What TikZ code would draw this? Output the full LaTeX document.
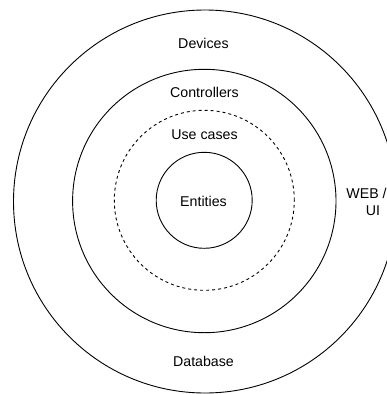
\documentclass[tikz,border=0pt]{standalone}
\usepackage{fontspec}
\setmainfont{Liberation Sans}
\begin{document}
\begin{tikzpicture}[x=1pt,y=-1pt,
  ring/.style={draw=black,line width=0.9pt,circle,inner sep=0pt},
  lbl/.style={font=\fontsize{14.2}{17.4}\selectfont,inner sep=0pt,align=center}]
  \useasboundingbox (0,0) rectangle (387,394);
  \begin{scope}
    \clip (0,0) rectangle (387,394);
    \node[ring,minimum size=383pt] (devices) at (205,201.5) {};
  \end{scope}
  \node[ring,minimum size=263.4pt] (controllers) at (204.3,201) {};
  \node[ring,minimum size=180pt,dash pattern=on 3pt off 3pt] (usecases) at (204.3,200.3) {};
  \node[ring,minimum size=96pt] (entities) at (204.2,200.3) {};
  \node[lbl] (tdev) at (203.5,43.5) {Devices};
  \node[lbl] (tctl) at (204.5,92) {Controllers};
  \node[lbl] (tuse) at (204.5,134.5) {Use cases};
  \node[lbl] (tent) at (203.5,201) {Entities};
  \node[lbl] (tdb) at (203.5,361) {Database};
  \node[lbl] (tweb) at (366.5,202) {WEB /\\\hspace*{13pt}UI};
\end{tikzpicture}
\end{document}
